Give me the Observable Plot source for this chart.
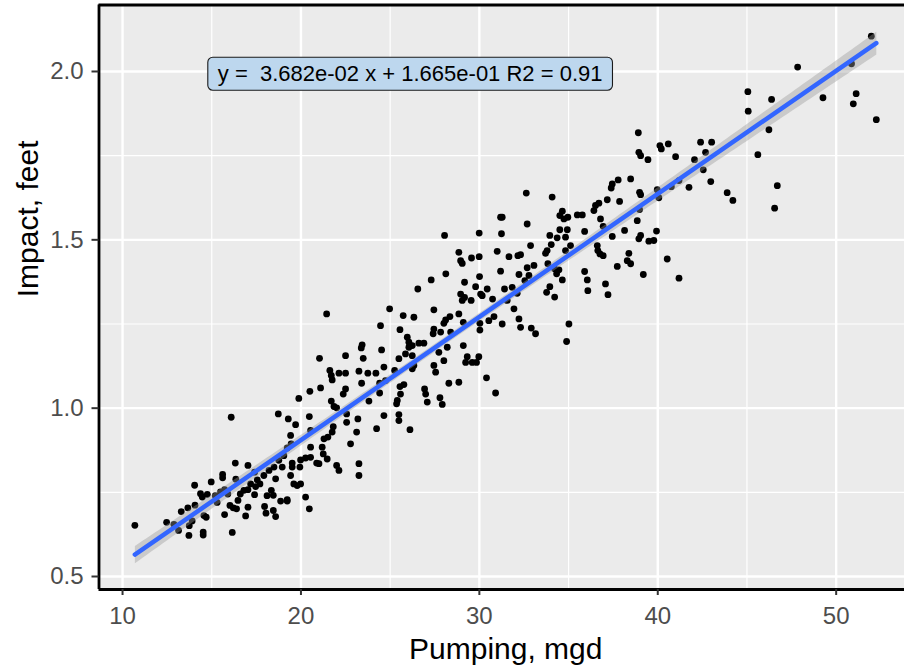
<!DOCTYPE html>
<html><head><meta charset="utf-8">
<script src="https://cdn.jsdelivr.net/npm/d3@7"></script>
<script src="https://cdn.jsdelivr.net/npm/@observablehq/plot@0.6"></script>
<style>
html,body{margin:0;padding:0;background:#fff;}
#chart{width:904px;height:667px;overflow:hidden;}
svg text{white-space:pre;}
</style></head><body><div id="chart"></div>
<script>
// Pumping (mgd) and Impact (feet)
const pumping = [
10.69,12.47,12.88,13.14,13.29,13.66,13.74,13.72,14.06,14.04,14.37,14.47,14.75,14.97,14.56,14.69,14.52,14.52,15.61,15.61,
16.35,16.32,16.09,15.72,16.15,15.49,16.02,16.21,16.47,16.39,16.90,17.03,16.80,17.03,17.03,17.18,17.46,17.40,17.55,17.40,
17.92,17.96,18.04,18.45,18.58,18.34,18.45,18.21,18.49,18.86,19.23,20.47,15.2,15.9,16.6,15.3,13.9,17.7,18.1,15.72,20.47,
21.44,24.97,24.46,25.55,28.20,23.43,23.38,24.52,22.50,21.04,23.49,25.49,24.65,25.25,24.20,23.75,23.25,22.50,22.13,21.62,
21.70,21.75,23.40,24.41,24.74,25.55,22.50,22.37,21.10,20.50,19.88,21.70,21.85,22.00,23.81,24.41,25.40,25.36,24.65,25.49,
25.49,26.11,24.24,23.19,22.56,22.56,23.12,22.78,23.25,23.25,21.81,21.75,21.51,21.29,21.19,21.25,21.47,21.01,20.88,20.54,
20.54,20.54,20.26,19.98,19.94,22.00,22.13,18.73,19.29,19.70,19.42,19.45,19.23,19.04,18.76,19.51,19.51,18.95,18.58,19.42,
19.60,19.98,19.79,20.26,19.23,26.33,26.24,
32.63,34.08,31.19,31.28,32.68,29.99,31.24,28.05,34.51,34.51,33.95,34.36,34.03,33.80,33.71,32.87,32.31,32.16,31.66,31.00,
29.99,29.56,28.85,28.95,29.04,33.06,32.68,33.84,34.22,34.46,34.33,31.19,32.22,32.78,32.55,30.01,28.12,27.30,26.55,29.17,
29.79,30.44,31.41,31.84,32.12,30.07,30.16,28.95,29.17,29.04,29.54,30.74,31.56,31.94,33.95,33.77,34.22,27.45,28.35,28.11,
28.01,28.85,29.10,26.33,25.73,30.82,30.53,30.03,30.03,31.28,32.22,32.31,32.91,33.15,35.02,34.89,27.45,27.41,27.83,28.39,
26.89,26.61,26.05,26.05,26.24,25.86,26.24,25.96,29.10,27.73,27.45,27.55,28.01,29.23,29.32,29.60,29.84,29.97,28.29,28.85,
30.40,30.91,26.93,26.99,27.08,27.79,27.92,25.77,25.58,
38.91,38.94,39.04,39.45,40.12,40.20,40.59,41.00,42.40,43.02,42.68,42.06,42.55,42.97,41.75,41.19,40.76,39.97,40.06,38.98,
39.04,38.98,38.48,37.78,37.45,37.39,37.86,37.17,36.70,36.51,36.42,35.49,35.77,34.65,34.74,34.96,34.93,34.83,35.11,34.83,
35.90,36.79,36.94,37.45,38.14,38.85,39.93,39.04,38.94,39.50,39.78,40.53,41.19,36.61,36.64,36.76,36.94,38.38,38.29,38.48,
37.73,39.19,35.90,36.05,36.08,37.07,37.21,34.65,43.89,44.21,
47.84,50.86,45.05,45.07,46.38,49.26,51.12,50.96,52.25,46.23,45.61,46.70,46.55,51.97
];
const impact = [
0.652,0.661,0.655,0.637,0.693,0.704,0.651,0.622,0.712,0.771,0.746,0.736,0.744,0.781,0.681,0.676,0.632,0.623,0.803,0.793,
0.789,0.837,0.973,0.684,0.631,0.751,0.711,0.704,0.726,0.701,0.680,0.706,0.756,0.758,0.830,0.775,0.767,0.743,0.787,0.810,
0.800,0.708,0.688,0.696,0.678,0.756,0.741,0.815,0.825,0.724,0.724,0.701,0.74,0.745,0.745,0.72,0.665,0.775,0.74,0.758,0.975,
1.280,1.295,1.245,1.233,1.181,1.188,1.179,1.173,1.156,1.148,1.148,1.147,1.122,1.112,1.104,1.104,1.110,1.104,1.104,1.112,
1.097,1.084,1.074,1.074,1.082,1.064,1.057,1.042,1.060,1.050,1.029,1.021,1.005,1.001,1.021,1.045,1.023,1.013,0.978,0.981,
0.963,0.936,0.939,0.968,0.983,0.958,0.929,0.894,0.835,0.800,0.945,0.929,0.914,0.909,0.884,0.864,0.849,0.835,0.837,0.884,
0.934,0.854,0.852,0.846,0.825,0.830,0.815,0.983,0.968,0.951,0.919,0.894,0.882,0.859,0.845,0.837,0.825,0.825,0.790,0.800,
0.775,0.775,0.770,0.736,0.728,1.127,1.117,
1.639,1.627,1.567,1.567,1.547,1.520,1.518,1.513,1.572,1.530,1.513,1.506,1.486,1.468,1.460,1.483,1.456,1.453,1.450,1.466,
1.450,1.446,1.463,1.438,1.430,1.424,1.417,1.429,1.414,1.411,1.399,1.407,1.397,1.394,1.379,1.391,1.399,1.381,1.354,1.374,
1.361,1.354,1.354,1.359,1.341,1.339,1.334,1.339,1.329,1.320,1.320,1.324,1.320,1.295,1.361,1.344,1.330,1.292,1.272,1.262,
1.252,1.280,1.255,1.270,1.275,1.272,1.260,1.252,1.232,1.250,1.265,1.240,1.238,1.221,1.250,1.198,1.235,1.221,1.226,1.226,
1.193,1.193,1.196,1.181,1.186,1.161,1.156,1.211,1.186,1.166,1.127,1.107,1.141,1.136,1.153,1.136,1.136,1.153,1.074,1.077,
1.090,1.045,1.057,1.042,1.018,1.031,1.011,1.070,1.042,
1.818,1.760,1.750,1.738,1.780,1.770,1.785,1.747,1.790,1.790,1.760,1.738,1.708,1.673,1.656,1.676,1.658,1.649,1.625,1.641,
1.634,1.590,1.681,1.678,1.666,1.654,1.614,1.619,1.609,1.602,1.587,1.574,1.574,1.585,1.562,1.567,1.530,1.508,1.483,1.468,
1.525,1.562,1.540,1.510,1.528,1.557,1.526,1.513,1.503,1.496,1.498,1.443,1.386,1.483,1.468,1.458,1.453,1.460,1.438,1.429,
1.421,1.397,1.406,1.381,1.349,1.369,1.337,1.381,1.640,1.617,
2.013,2.023,1.940,1.882,1.917,1.922,1.934,1.904,1.857,1.827,1.753,1.661,1.594,2.105
];

const xMajor = [10, 20, 30, 40, 50];
const xMinor = [15, 25, 35, 45];
const yMajor = [0.5, 1.0, 1.5, 2.0];
const yMinor = [0.75, 1.25, 1.75];
const xDomain = [8.68, 53.83];
const yDomain = [0.4614, 2.1975];
const xTitle = "Pumping, mgd";
const yTitle = "Impact, feet";
const eqText = ["y =  3.682e-02 x + 1.665e-01 R2 = 0.91"];
const eqX = [26.12];
const eqY = [1.992];

const data = pumping.map((p, i) => ({pumping: p, impact: impact[i]}));
const font = "'Liberation Sans', Arial, Helvetica, sans-serif";

const chart = Plot.plot({
  width: 904, height: 667,
  marginLeft: 98.5, marginRight: 0, marginTop: 4.5, marginBottom: 78,
  style: {fontFamily: font, background: "#ffffff", overflow: "visible"},
  x: {domain: xDomain},
  y: {domain: yDomain},
  marks: [
    Plot.frame({fill: "#EBEBEB", stroke: null}),
    Plot.ruleX(xMinor, {stroke: "#ffffff", strokeWidth: 1.2}),
    Plot.ruleY(yMinor, {stroke: "#ffffff", strokeWidth: 1.2}),
    Plot.ruleX(xMajor, {stroke: "#ffffff", strokeWidth: 2.4}),
    Plot.ruleY(yMajor, {stroke: "#ffffff", strokeWidth: 2.4}),
    Plot.dot(data, {x: "pumping", y: "impact", r: 3.4, fill: "#000000", stroke: null}),
    Plot.linearRegressionY(data, {x: "pumping", y: "impact", stroke: "#3366FF", strokeWidth: 4.5, fill: "#999999", fillOpacity: 0.4}),
    Plot.ruleX([xDomain[0]], {stroke: "#000000", strokeWidth: 2.8}),
    Plot.ruleY(yDomain, {stroke: "#000000", strokeWidth: 2.8}),
    Plot.axisX(xMajor, {tickSize: 6, tickPadding: 11, fontSize: 24, fill: "#4D4D4D", stroke: "#333333", strokeWidth: 2, label: null}),
    Plot.axisY(yMajor, {tickSize: 7, tickPadding: 8.5, fontSize: 24, fill: "#4D4D4D", stroke: "#333333", strokeWidth: 2, tickFormat: d3.format(".1f"), label: null}),
    Plot.text([xTitle], {frameAnchor: "bottom", lineAnchor: "bottom", dy: 69, dx: 4, fontSize: 30, fill: "#000000"}),
    Plot.text([yTitle], {frameAnchor: "left", rotate: -90, lineAnchor: "bottom", dx: -61.5, fontSize: 30, fill: "#000000"}),
    Plot.text(eqText, {x: eqX, y: eqY, fontSize: 22, fill: "#000000"})
  ]
});
document.getElementById("chart").appendChild(chart);

// rounded label box behind the equation text (like ggplot's geom_label)
const eqNode = Array.from(chart.querySelectorAll("text")).find(t => t.textContent.startsWith("y ="));
if (eqNode) {
  eqNode.setAttribute("xml:space", "preserve");
  const bb = eqNode.getBBox();
  const padX = 10, padY = 4;
  const rect = document.createElementNS("http://www.w3.org/2000/svg", "rect");
  rect.setAttribute("x", bb.x - padX);
  rect.setAttribute("y", bb.y - padY);
  rect.setAttribute("width", bb.width + 2 * padX);
  rect.setAttribute("height", bb.height + 2 * padY);
  rect.setAttribute("rx", 5);
  rect.setAttribute("ry", 5);
  rect.setAttribute("fill", "#BDD7EE");
  rect.setAttribute("stroke", "#1a1a1a");
  rect.setAttribute("stroke-width", 1.1);
  const tr = eqNode.getAttribute("transform");
  if (tr) rect.setAttribute("transform", tr);
  eqNode.parentNode.insertBefore(rect, eqNode);
}
</script>
</body></html>
